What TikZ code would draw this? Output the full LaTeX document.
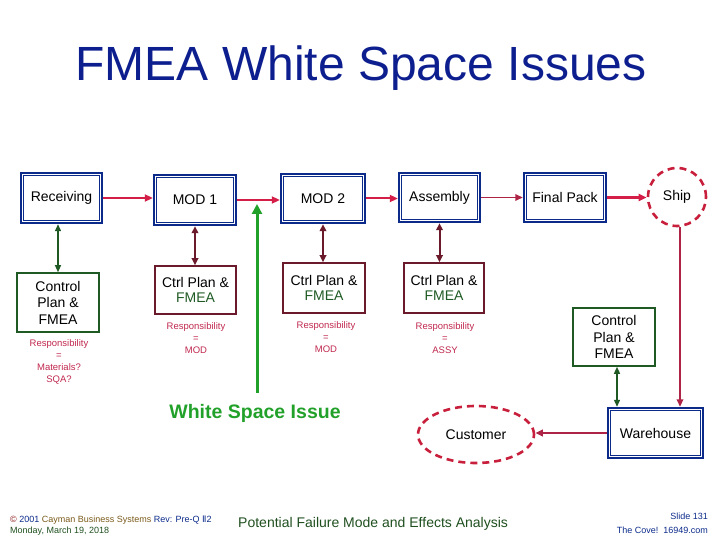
\documentclass[tikz,border=0pt]{standalone}
\usepackage{fontspec}
\setmainfont{Liberation Sans}
\newfontfamily\dejavu{DejaVu Sans}
\usetikzlibrary{arrows.meta,shapes.geometric}
\definecolor{cnavy}{HTML}{0B2A8A}
\definecolor{ctitle}{HTML}{0D1F8F}
\definecolor{ccrim}{HTML}{D41E48}
\definecolor{cdash}{HTML}{C8203C}
\definecolor{cresp}{HTML}{C0284E}
\definecolor{cmaroon}{HTML}{6B1A2B}
\definecolor{cdgreen}{HTML}{1F5A24}
\definecolor{cbgreen}{HTML}{22A12A}
\definecolor{cfoot}{HTML}{1F4F1F}
\definecolor{colive}{HTML}{7A5A1A}
\definecolor{cdred}{HTML}{8B1A1A}
\begin{document}
\begin{tikzpicture}[x=1pt,y=-1pt,
  boxtext/.style={font=\fontsize{14}{16}\selectfont, align=center, inner sep=0pt},
  bluebox/.style={boxtext, draw=cnavy, line width=2.4pt},
  innerline/.style={draw=cnavy, line width=0.8pt},
  maroonbox/.style={boxtext, draw=cmaroon, line width=1.6pt, font=\fontsize{14}{15.5}\selectfont},
  greenbox/.style={boxtext, draw=cdgreen, line width=1.6pt, font=\fontsize{14}{16.5}\selectfont},
  dashshape/.style={boxtext, draw=cdash, line width=2.6pt, dash pattern=on 7pt off 5pt},
  resp/.style={text=cresp, align=center, inner sep=0pt, font=\fontsize{9.5}{12}\selectfont},
  redarr/.style={draw=ccrim, line width=2pt, -{Triangle[length=8pt,width=7pt]}},
  thinred/.style={draw=cresp!90!black, line width=1.5pt, -{Triangle[length=7.5pt,width=6.5pt]}},
  marrow/.style={draw=cmaroon, line width=2pt, {Triangle[length=7pt,width=6.5pt]}-{Triangle[length=7pt,width=6.5pt]}},
  garrow/.style={draw=cdgreen, line width=1.3pt, {Triangle[length=7pt,width=6pt]}-{Triangle[length=7pt,width=6pt]}},
  bigarrow/.style={draw=cbgreen, line width=3pt, -{Triangle[length=10pt,width=10pt]}},
  foot/.style={inner sep=0pt, font=\fontsize{9}{11}\selectfont}
]
\useasboundingbox (0,0) rectangle (720,540);

% title
\node[anchor=base, text=ctitle, inner sep=0pt, font=\fontsize{48}{50}\selectfont] (title) at (361,81) {FMEA White Space Issues};

% blue process boxes
\node[bluebox, minimum width=81pt, minimum height=50pt] (rec) at (61.5,198) {Receiving};
\node[bluebox, minimum width=82pt, minimum height=50pt] (mod1) at (195,200) {MOD 1};
\node[bluebox, minimum width=84pt, minimum height=49pt] (mod2) at (323,198.5) {MOD 2};
\node[bluebox, minimum width=81pt, minimum height=49pt] (asm) at (439.5,197.5) {Assembly};
\node[bluebox, minimum width=82pt, minimum height=49pt] (fp) at (565,197.5) {Final Pack};
\node[bluebox, minimum width=95pt, minimum height=50pt] (wh) at (655.5,433) {Warehouse};
\foreach \n in {rec,mod1,mod2,asm,fp,wh}
  \draw[innerline] ([shift={(4pt,-4pt)}]\n.north west) rectangle ([shift={(-4pt,4pt)}]\n.south east);

% dashed shapes
\node[dashshape, circle, minimum size=58pt] (ship) at (677,197) {Ship};
\node[dashshape, ellipse, minimum width=116pt, minimum height=57pt] (cust) at (476,434.5) {Customer};

% control plan boxes
\node[maroonbox, minimum width=81pt, minimum height=48pt] (c1) at (195.5,290) {Ctrl Plan \&\\\textcolor{cdgreen}{FMEA}};
\node[maroonbox, minimum width=82pt, minimum height=50pt] (c2) at (324,288) {Ctrl Plan \&\\\textcolor{cdgreen}{FMEA}};
\node[maroonbox, minimum width=80pt, minimum height=50pt] (c3) at (444,288) {Ctrl Plan \&\\\textcolor{cdgreen}{FMEA}};
\node[greenbox, minimum width=82pt, minimum height=59pt] (gl) at (58,302.5) {Control\\Plan \&\\FMEA};
\node[greenbox, minimum width=82pt, minimum height=58pt] (gr) at (614,337) {Control\\Plan \&\\FMEA};

% responsibility labels
\node[resp] (r0) at (59,362) {Responsibility\\=\\Materials?\\SQA?};
\node[resp] (r1) at (196,338) {Responsibility\\=\\MOD};
\node[resp] (r2) at (326,337) {Responsibility\\=\\MOD};
\node[resp] (r3) at (445,338) {Responsibility\\=\\ASSY};

% flow arrows
\draw[redarr] (rec.east) -- (rec.east -| mod1.west);
\draw[redarr] (mod1.east) -- (mod1.east -| mod2.west);
\draw[redarr] (mod2.east) -- (mod2.east -| asm.west);
\draw[thinred] (asm.east) -- (asm.east -| fp.west);
\draw[redarr, line width=2.6pt] (fp.east) -- (fp.east -| ship.west);
\draw[thinred, line width=1.8pt] ([xshift=3pt]ship.south) -- ([xshift=3pt]ship.south |- wh.north);
\draw[thinred, line width=1.8pt] (wh.west) -- (wh.west -| cust.east);

% control plan links
\draw[garrow] (gl.north) -- (gl.north |- rec.south);
\draw[marrow] (mod1.south) -- (mod1.south |- c1.north);
\draw[marrow] (mod2.south) -- (mod2.south |- c2.north);
\draw[marrow] (asm.south) -- (asm.south |- c3.north);
\draw[garrow] ([xshift=3pt]gr.south) -- ([xshift=3pt]gr.south |- wh.north);

% white space issue
\coordinate (gb) at (257,393);
\coordinate (gt) at (257,204);
\draw[bigarrow] (gb) -- (gt);
\node[text=cbgreen, inner sep=0pt, font=\bfseries\fontsize{19.5}{21}\selectfont] (wsi) at (255,413) {White Space Issue};

% footer
\node[anchor=base west, foot] (f1) at (10,522.5) {\textcolor{cdred}{©}~\textcolor{cnavy}{2001} \textcolor{colive}{Cayman Business Systems} \textcolor{cnavy}{Rev: Pre-Q {\dejavu Ⅱ}2}};
\node[anchor=base west, foot, text=cfoot] (f2) at (10,533.5) {Monday, March 19, 2018};
\node[anchor=base west, inner sep=0pt, text=cfoot, font=\fontsize{14}{16}\selectfont] (f3) at (238,527) {Potential Failure Mode and Effects Analysis};
\node[anchor=base east, foot, text=cnavy] (f4) at (708,519.5) {Slide 131};
\node[anchor=base east, foot, text=cnavy] (f5) at (708,533.5) {The Cove!\ \ 16949.com};
\end{tikzpicture}
\end{document}
